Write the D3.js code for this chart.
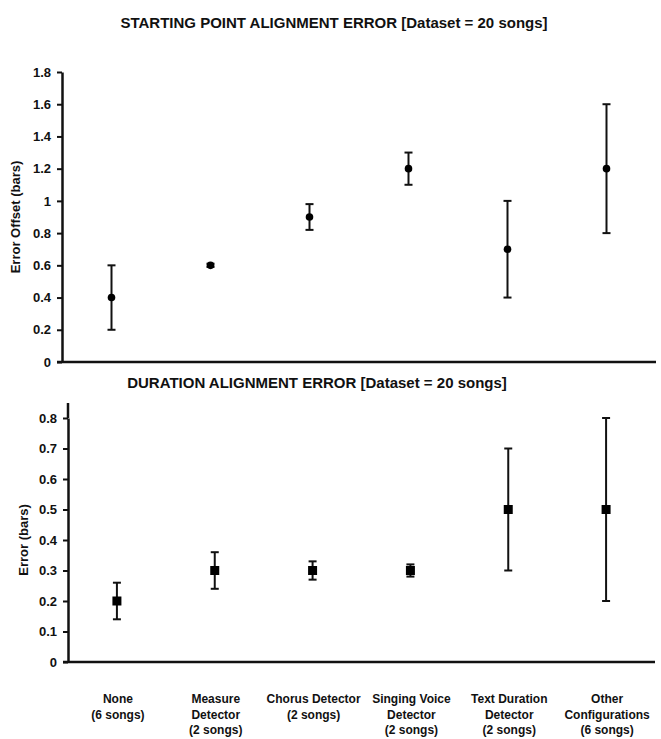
<!DOCTYPE html>
<html>
<head>
<meta charset="utf-8">
<script src="https://cdn.jsdelivr.net/npm/d3@7"></script>
<style>
  body { margin: 0; background: #fff; }
  text { font-family: "Liberation Sans", Arial, sans-serif; font-weight: bold; fill: #111; }
  .axis path, .axis line { stroke: #111; }
</style>
</head>
<body>
<svg id="chart" width="661" height="739"></svg>
<script>
// categories shared by both panels
let categories = ["None", "Measure", "Chorus", "Singing", "Text", "Other"];
let cat_labels = [
  ["None", "(6 songs)"],
  ["Measure", "Detector", "(2 songs)"],
  ["Chorus Detector", "(2 songs)"],
  ["Singing Voice", "Detector", "(2 songs)"],
  ["Text Duration", "Detector", "(2 songs)"],
  ["Other", "Configurations", "(6 songs)"]
];

// starting point alignment error (bars)
let start_mean = [0.4, 0.6, 0.9, 1.2, 0.7, 1.2];
let start_low  = [0.2, 0.59, 0.82, 1.1, 0.4, 0.8];
let start_high = [0.6, 0.61, 0.98, 1.3, 1.0, 1.6];
let start_ticks = [0, 0.2, 0.4, 0.6, 0.8, 1, 1.2, 1.4, 1.6, 1.8];

// duration alignment error (bars)
let dur_mean = [0.2, 0.3, 0.3, 0.3, 0.5, 0.5];
let dur_low  = [0.14, 0.24, 0.27, 0.28, 0.3, 0.2];
let dur_high = [0.26, 0.36, 0.33, 0.32, 0.7, 0.8];
let dur_ticks = [0, 0.1, 0.2, 0.3, 0.4, 0.5, 0.6, 0.7, 0.8];

let svg = d3.select("#chart");

function zip(mean, low, high) {
  return categories.map((c, i) => ({cat: c, mean: mean[i], low: low[i], high: high[i]}));
}

// draws one panel with error bars
function drawPanel(opts) {
  let x = d3.scaleBand().domain(categories).range([opts.left, opts.right]);
  let y = d3.scaleLinear().domain(opts.domain).range([opts.bottom, opts.top]);

  let g = svg.append("g");

  let yAxis = d3.axisLeft(y).tickValues(opts.ticks).tickSize(5).tickSizeOuter(0)
    .tickFormat(d => d3.format("~g")(d));
  let ya = g.append("g").attr("class", "axis")
    .attr("transform", "translate(" + opts.left + ",0)")
    .call(yAxis);
  ya.select(".domain").attr("stroke-width", 2.5);
  ya.selectAll(".tick line").attr("stroke-width", 2);
  ya.selectAll(".tick text").attr("font-size", 13).attr("x", -11).style("fill", "#111");

  // x axis baseline
  g.append("line")
    .attr("x1", opts.left - 5).attr("x2", opts.right)
    .attr("y1", y(0)).attr("y2", y(0))
    .attr("stroke", "#111").attr("stroke-width", 2.5);

  let data = zip(opts.mean, opts.low, opts.high);
  let cx = d => x(d.cat) + x.bandwidth() / 2;

  g.selectAll(".err").data(data).enter().append("line")
    .attr("x1", cx).attr("x2", cx)
    .attr("y1", d => y(d.low)).attr("y2", d => y(d.high))
    .attr("stroke", "#111").attr("stroke-width", 2);
  ["low", "high"].forEach(k => {
    g.selectAll(".cap-" + k).data(data).enter().append("line")
      .attr("x1", d => cx(d) - 4).attr("x2", d => cx(d) + 4)
      .attr("y1", d => y(d[k])).attr("y2", d => y(d[k]))
      .attr("stroke", "#111").attr("stroke-width", 2);
  });

  if (opts.marker == "dot") {
    g.selectAll(".pt").data(data).enter().append("circle")
      .attr("cx", cx).attr("cy", d => y(d.mean)).attr("r", 3.8)
      .attr("fill", "#000");
  } else {
    g.selectAll(".pt").data(data).enter().append("rect")
      .attr("x", d => cx(d) - 4.5).attr("y", d => y(d.mean) - 4.5)
      .attr("width", 9).attr("height", 9)
      .attr("fill", "#000");
  }

  // titles
  svg.append("text").attr("x", opts.titleX).attr("y", opts.titleY)
    .attr("text-anchor", "middle").attr("font-size", 15)
    .text(opts.title);
  svg.append("text")
    .attr("transform", "translate(" + opts.ylabX + "," + ((opts.top + opts.bottom) / 2) + ") rotate(-90)")
    .attr("text-anchor", "middle").attr("font-size", 13)
    .text(opts.ylabel);

  return x;
}

drawPanel({
  left: 62, right: 656, top: 72, bottom: 362,
  domain: [0, 1.8], ticks: start_ticks,
  mean: start_mean, low: start_low, high: start_high,
  marker: "dot",
  title: "STARTING POINT ALIGNMENT ERROR [Dataset = 20 songs]",
  titleX: 334, titleY: 28,
  ylabel: "Error Offset (bars)", ylabX: 20
});

let xb = drawPanel({
  left: 68, right: 655, top: 418, bottom: 662,
  domain: [0, 0.8], ticks: dur_ticks,
  mean: dur_mean, low: dur_low, high: dur_high,
  marker: "square",
  title: "DURATION ALIGNMENT ERROR [Dataset = 20 songs]",
  titleX: 317, titleY: 388,
  ylabel: "Error (bars)", ylabX: 28
});

// extend bottom y axis a bit above the top tick like the original
svg.append("line").attr("x1", 68).attr("x2", 68).attr("y1", 403).attr("y2", 418)
  .attr("stroke", "#111").attr("stroke-width", 2.5);

// category labels under the bottom panel
let lab = svg.append("g");
cat_labels.forEach((lines, i) => {
  let cx = xb(categories[i]) + xb.bandwidth() / 2 + 1;
  let t = lab.append("text")
    .attr("x", cx)
    .attr("y", 703)
    .attr("text-anchor", "middle")
    .attr("font-size", 12);
  lines.forEach((s, j) => {
    t.append("tspan").attr("x", cx)
      .attr("dy", j == 0 ? 0 : 15.5).text(s);
  });
});
</script>
</body>
</html>
